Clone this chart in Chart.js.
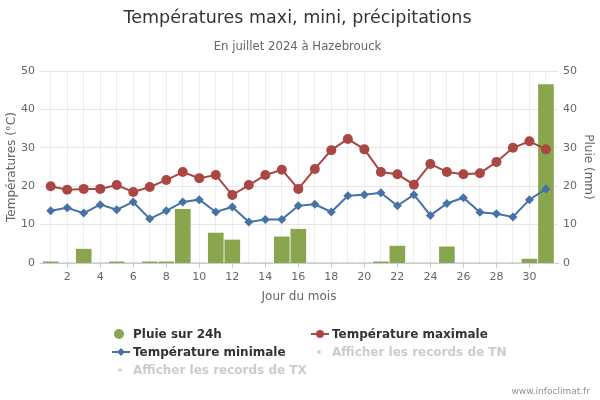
<!DOCTYPE html>
<html>
<head>
<meta charset="utf-8">
<script src="https://cdn.jsdelivr.net/npm/chart.js@4"></script>
<style>
  body { margin: 0; background: #fff; }
  #wrap { position: relative; width: 600px; height: 400px; font-family: "DejaVu Sans", sans-serif; }
  #c { position: absolute; left: 0; top: 0; }
  #legend { position: absolute; left: 112px; top: 325px; display: grid; grid-template-columns: 199px 199px; grid-auto-rows: 18px; }
  .item { display: flex; align-items: center; font-size: 12px; font-weight: bold; color: #333; white-space: nowrap; }
  .item.off { color: #ccc; }
  .item svg { width: 18px; height: 12px; margin-right: 3px; flex: none; }
  #credits { position: absolute; right: 10px; top: 386px; font-size: 9px; color: #909090; }
</style>
</head>
<body>
<div id="wrap">
  <canvas id="c" width="600" height="400"></canvas>
  <div id="legend"></div>
  <div id="credits">www.infoclimat.fr</div>
</div>
<script>
const days = [1,2,3,4,5,6,7,8,9,10,11,12,13,14,15,16,17,18,19,20,21,22,23,24,25,26,27,28,29,30,31];
const tmax = [20.0,19.1,19.3,19.3,20.3,18.5,19.8,21.6,23.7,22.1,22.9,17.7,20.3,22.9,24.3,19.3,24.5,29.4,32.3,29.6,23.7,23.1,20.4,25.8,23.7,23.1,23.4,26.3,30.0,31.7,29.6];
const tmin = [13.6,14.4,13.0,15.2,13.9,15.9,11.5,13.6,15.9,16.5,13.3,14.6,10.7,11.3,11.3,14.9,15.3,13.3,17.5,17.8,18.3,14.9,17.8,12.4,15.5,17.0,13.2,12.8,12.0,16.5,19.3];
const rain = [0.3,0,3.6,0,0.3,0,0.3,0.3,14.0,0,7.8,6.0,0,0,6.8,8.8,0,0,0,0,0.3,4.4,0,0,4.2,0,0,0,0,1.0,46.5];
const yTicks = [0,10,20,30,40,50];

const green = '#89A54E', red = '#AA4643', blue = '#4572A7';
const font = '"DejaVu Sans", sans-serif';
Chart.defaults.font.family = font;
Chart.defaults.color = '#666';

new Chart(document.getElementById('c'), {
  type: 'bar',
  data: {
    labels: days,
    datasets: [
      { type: 'line', label: 'Température maximale', data: tmax, borderColor: red, backgroundColor: red,
        borderWidth: 2, pointStyle: 'circle', pointRadius: 5, pointBorderWidth: 0, yAxisID: 'y', order: 0 },
      { type: 'line', label: 'Température minimale', data: tmin, borderColor: blue, backgroundColor: blue,
        borderWidth: 2, pointStyle: 'rectRot', pointRadius: 4.5, pointBorderWidth: 0, yAxisID: 'y', order: 0 },
      { type: 'bar', label: 'Pluie sur 24h', data: rain, backgroundColor: green, barThickness: 15,
        yAxisID: 'y1', order: 1 }
    ]
  },
  options: {
    responsive: false,
    animation: false,
    layout: { padding: { left: 0, right: 5, top: 0, bottom: 92 } },
    plugins: {
      legend: { display: false },
      tooltip: { enabled: false },
      title: { display: true, text: 'Températures maxi, mini, précipitations', color: '#333',
        font: { size: 17.5, weight: 'normal' }, padding: { top: 8, bottom: 10 } },
      subtitle: { display: true, text: 'En juillet 2024 à Hazebrouck', color: '#666',
        font: { size: 11.7 }, padding: { top: 1, bottom: 17 } }
    },
    scales: {
      x: {
        type: 'linear', min: 0.352, max: 31.73, offset: false,
        afterFit: s => { s.height = 45; },
        grid: { color: '#eeeeee', tickLength: 5, offset: false,
          tickColor: c => c.tick && c.tick.value % 2 === 0 ? '#C0D0E0' : 'rgba(0,0,0,0)' },
        border: { color: '#C0D0E0' },
        ticks: { stepSize: 1, includeBounds: false, autoSkip: false, maxRotation: 0, padding: 3,
          font: { size: 11 }, callback: v => v % 2 === 0 ? v : '' },
        title: { display: true, text: 'Jour du mois', font: { size: 12 }, padding: { top: 6, bottom: 4 } }
      },
      y: {
        position: 'left', min: 0, max: 50,
        afterFit: s => { s.width = 40; },
        afterBuildTicks: s => { s.ticks = yTicks.map(v => ({ value: v })); },
        grid: { color: '#e6e6e6', drawTicks: false },
        border: { display: false },
        ticks: { padding: 5, font: { size: 11 } },
        title: { display: true, text: 'Températures (°C)', font: { size: 12 }, padding: { top: 5, bottom: 1 } }
      },
      y1: {
        position: 'right', min: 0, max: 50,
        afterFit: s => { s.width = 37; },
        afterBuildTicks: s => { s.ticks = yTicks.map(v => ({ value: v })); },
        grid: { display: false, drawTicks: false },
        border: { display: false },
        ticks: { padding: 5, font: { size: 11 } },
        title: { display: true, text: 'Pluie (mm)', font: { size: 12 }, padding: { top: 0, bottom: 3 } }
      }
    }
  }
});

// legende HTML en deux colonnes
const legendItems = [
  { label: 'Pluie sur 24h', kind: 'dot', color: green },
  { label: 'Température maximale', kind: 'circle', color: red },
  { label: 'Température minimale', kind: 'diamond', color: blue },
  { label: 'Afficher les records de TN', kind: 'off' },
  { label: 'Afficher les records de TX', kind: 'off' }
];
const sym = it => {
  if (it.kind === 'dot') return `<circle cx="7" cy="6" r="5" fill="${it.color}"/>`;
  if (it.kind === 'off') return `<circle cx="8" cy="6" r="1.8" fill="#ccc"/>`;
  const line = `<line x1="0" y1="6" x2="18" y2="6" stroke="${it.color}" stroke-width="2"/>`;
  if (it.kind === 'circle') return line + `<circle cx="9" cy="6" r="4" fill="${it.color}"/>`;
  return line + `<path d="M9 2 L13 6 L9 10 L5 6 Z" fill="${it.color}"/>`;
};
document.getElementById('legend').innerHTML = legendItems.map(it =>
  `<div class="item${it.kind === 'off' ? ' off' : ''}"><svg viewBox="0 0 18 12">${sym(it)}</svg>${it.label}</div>`
).join('');
</script>
</body>
</html>
